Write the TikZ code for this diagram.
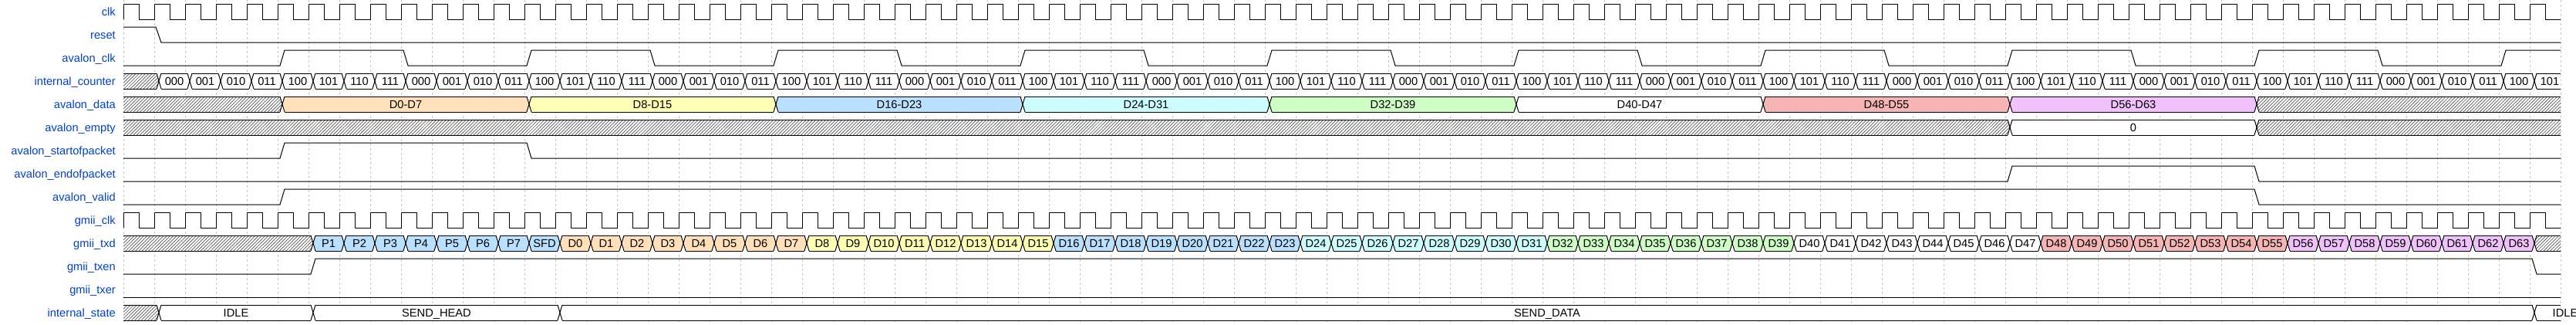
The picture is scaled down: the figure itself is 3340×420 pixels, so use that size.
\documentclass[tikz,border=0pt]{standalone}
\usepackage{fontspec}
\setmainfont{Liberation Sans}
\usetikzlibrary{patterns.meta}
\definecolor{lab}{HTML}{0041C4}
\definecolor{c3}{HTML}{FFFFB4}
\definecolor{c4}{HTML}{FFE0B9}
\definecolor{c5}{HTML}{B9E0FF}
\definecolor{c6}{HTML}{CCFDFE}
\definecolor{c7}{HTML}{CDFDC5}
\definecolor{c8}{HTML}{F0C1FB}
\definecolor{c9}{HTML}{F6B4B4}
\colorlet{grp0}{c4}
\colorlet{grp1}{c3}
\colorlet{grp2}{c5}
\colorlet{grp3}{c6}
\colorlet{grp4}{c7}
\colorlet{grp5}{white}
\colorlet{grp6}{c9}
\colorlet{grp7}{c8}
\tikzset{
  wave/.style={line width=1bp, black, line join=miter},
  gridln/.style={black!22, line width=0.8bp, dash pattern=on 3bp off 3bp},
  hatch/.style={pattern={Lines[angle=45,distance=3bp,line width=0.7bp]}, pattern color=black!68},
  siglabel/.style={anchor=base east, text=lab, font=\fontsize{14.67bp}{16bp}\selectfont, inner sep=0pt},
  datatext/.style={anchor=base, font=\fontsize{14.67bp}{16bp}\selectfont, inner sep=0pt},
}
\def\binlab#1{\ifcase#1 000\or 001\or 010\or 011\or 100\or 101\or 110\or 111\fi}
\newcommand\busseg[5]{%
  \pgfmathsetmacro\xa{160+40*(#2)}%
  \pgfmathsetmacro\xb{160+40*(#3)}%
  \pgfmathsetmacro\yt{5+30*(#1)}%
  \pgfmathsetmacro\yb{25+30*(#1)}%
  \pgfmathsetmacro\ym{15+30*(#1)}%
  \pgfmathsetmacro\xc{(\xa+\xb)/2+6}%
  \ifnum#2=0 \def\xlt{160}\def\xlm{160}\else\pgfmathsetmacro\xlt{\xa+9}\pgfmathsetmacro\xlm{\xa+6}\fi
  \ifnum#3>78 \def\xrt{3320}\def\xrm{3320}\else\pgfmathsetmacro\xrt{\xb+3}\pgfmathsetmacro\xrm{\xb+6}\fi
  \fill[white] (\xlt,\yt)--(\xrt,\yt)--(\xrm,\ym)--(\xrt,\yb)--(\xlt,\yb)--(\xlm,\ym)--cycle;
  \fill[#4] (\xlt,\yt)--(\xrt,\yt)--(\xrm,\ym)--(\xrt,\yb)--(\xlt,\yb)--(\xlm,\ym)--cycle;
  \draw[wave] (\xlt,\yt)--(\xrt,\yt) (\xlt,\yb)--(\xrt,\yb);
  \ifnum#2=0 \else\draw[wave] (\xlt,\yt)--(\xlm,\ym)--(\xlt,\yb);\fi
  \ifnum#3>78 \else\draw[wave] (\xrt,\yt)--(\xrm,\ym)--(\xrt,\yb);\fi
  \node[datatext] (v-#1-#2) at (\xc,{\ym+5.5}) {#5};%
}
\begin{document}
\begin{tikzpicture}[x=1bp,y=-1bp]
\useasboundingbox (0,0) rectangle (3340,420);
% grid
\foreach \k in {0,...,79} \draw[gridln] ({160+40*\k},0) -- ({160+40*\k},420);
% labels
\foreach \nm [count=\i from 0] in {clk,reset,avalon\_clk,internal\_counter,avalon\_data,avalon\_empty,avalon\_startofpacket,avalon\_endofpacket,avalon\_valid,gmii\_clk,gmii\_txd,gmii\_txen,gmii\_txer,internal\_state}
  \node[siglabel] (lab\i) at (150,{20.5+30*\i}) {\nm};
% clk
\draw[wave] (160,25) \foreach \k in {0,...,78} { -- ({160+40*\k},5) -- ({180+40*\k},5) -- ({180+40*\k},25) -- ({200+40*\k},25) };
% reset
\draw[wave] (160,35) -- (202,35) -- (209,55) -- (3320,55);
% avalon_clk
\draw[wave] (160,85) \foreach \k in {0,...,8} { -- ({163+40*(5+8*\k)},85) -- ({169+40*(5+8*\k)},65) -- ({163+40*(9+8*\k)},65) -- ({169+40*(9+8*\k)},85) } -- (3243,85) -- (3249,65) -- (3320,65);
% internal_counter
\busseg{3}{0}{1}{hatch}{}
\foreach \k in {1,...,78} {
  \pgfmathtruncatemacro\m{mod(\k-1,8)}
  \pgfmathtruncatemacro\kk{\k+1}
  \busseg{3}{\k}{\kk}{white}{\binlab{\m}}
}
% avalon_data
\busseg{4}{0}{5}{hatch}{}
\busseg{4}{5}{13}{c4}{D0-D7}
\busseg{4}{13}{21}{c3}{D8-D15}
\busseg{4}{21}{29}{c5}{D16-D23}
\busseg{4}{29}{37}{c6}{D24-D31}
\busseg{4}{37}{45}{c7}{D32-D39}
\busseg{4}{45}{53}{white}{D40-D47}
\busseg{4}{53}{61}{c9}{D48-D55}
\busseg{4}{61}{69}{c8}{D56-D63}
\busseg{4}{69}{79}{hatch}{}
% avalon_empty
\busseg{5}{0}{61}{hatch}{}
\busseg{5}{61}{69}{white}{0}
\busseg{5}{69}{79}{hatch}{}
% avalon_startofpacket
\draw[wave] (160,205) -- (363,205) -- (369,185) -- (683,185) -- (689,205) -- (3320,205);
% avalon_endofpacket
\draw[wave] (160,235) -- (2603,235) -- (2609,215) -- (2923,215) -- (2929,235) -- (3320,235);
% avalon_valid
\draw[wave] (160,265) -- (363,265) -- (369,245) -- (2923,245) -- (2929,265) -- (3320,265);
% gmii_clk
\draw[wave] (160,295) \foreach \k in {0,...,78} { -- ({160+40*\k},275) -- ({180+40*\k},275) -- ({180+40*\k},295) -- ({200+40*\k},295) };
% gmii_txd
\busseg{10}{0}{6}{hatch}{}
\foreach \p in {1,...,7} {
  \pgfmathtruncatemacro\sa{5+\p}
  \pgfmathtruncatemacro\sb{6+\p}
  \busseg{10}{\sa}{\sb}{c5}{P\p}
}
\busseg{10}{13}{14}{c5}{SFD}
\foreach \d in {0,...,63} {
  \pgfmathtruncatemacro\sa{14+\d}
  \pgfmathtruncatemacro\sb{15+\d}
  \pgfmathtruncatemacro\grp{int(\d/8)}
  \busseg{10}{\sa}{\sb}{grp\grp}{D\d}
}
\busseg{10}{78}{79}{hatch}{}
% gmii_txen
\draw[wave] (160,355) -- (403,355) -- (409,335) -- (3283,335) -- (3289,355) -- (3320,355);
% gmii_txer
\draw[wave] (160,385) -- (3320,385);
% internal_state
\busseg{13}{0}{1}{hatch}{}
\busseg{13}{1}{6}{white}{IDLE}
\busseg{13}{6}{14}{white}{SEND\_HEAD}
\busseg{13}{14}{78}{white}{SEND\_DATA}
\busseg{13}{78}{80}{white}{IDLE}
\end{tikzpicture}
\end{document}
